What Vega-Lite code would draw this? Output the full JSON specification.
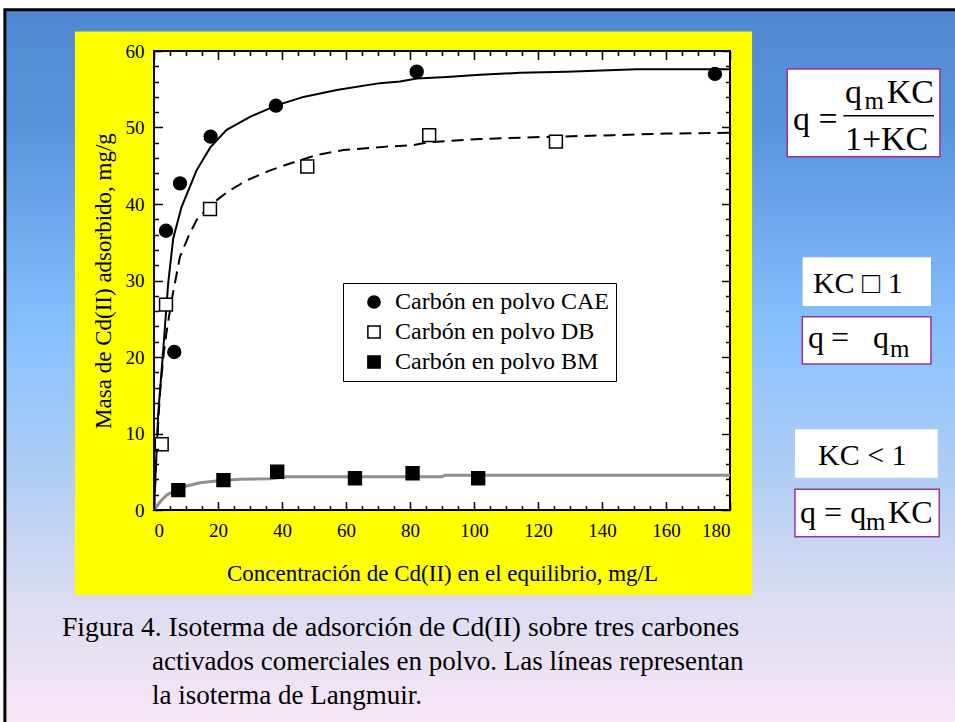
{
  "$schema": "https://vega.github.io/schema/vega-lite/v6.json",
  "width": 576,
  "height": 459,
  "autosize": {"type": "none"},
  "padding": {"left": 154, "top": 51, "right": 225, "bottom": 212},
  "background": "white",
  "config": {"view": {"stroke": null}, "font": "Liberation Serif", "axis": {"zindex": 1}},
  "datasets": {
    "puntos": [
      {"serie": "Carbón en polvo CAE", "C": 3.75, "q": 36.5},
      {"serie": "Carbón en polvo CAE", "C": 6.34, "q": 20.65},
      {"serie": "Carbón en polvo CAE", "C": 8.13, "q": 42.7},
      {"serie": "Carbón en polvo CAE", "C": 17.7, "q": 48.8},
      {"serie": "Carbón en polvo CAE", "C": 38.1, "q": 52.85},
      {"serie": "Carbón en polvo CAE", "C": 82.1, "q": 57.3},
      {"serie": "Carbón en polvo CAE", "C": 175.3, "q": 57.0},
      {"serie": "Carbón en polvo DB", "C": 2.41, "q": 8.6},
      {"serie": "Carbón en polvo DB", "C": 3.75, "q": 26.85},
      {"serie": "Carbón en polvo DB", "C": 17.5, "q": 39.35},
      {"serie": "Carbón en polvo DB", "C": 47.9, "q": 44.9},
      {"serie": "Carbón en polvo DB", "C": 86.0, "q": 49.0},
      {"serie": "Carbón en polvo DB", "C": 125.6, "q": 48.15},
      {"serie": "Carbón en polvo BM", "C": 7.6, "q": 2.6},
      {"serie": "Carbón en polvo BM", "C": 21.7, "q": 3.9},
      {"serie": "Carbón en polvo BM", "C": 38.5, "q": 5.0},
      {"serie": "Carbón en polvo BM", "C": 62.8, "q": 4.15},
      {"serie": "Carbón en polvo BM", "C": 80.8, "q": 4.8},
      {"serie": "Carbón en polvo BM", "C": 101.3, "q": 4.15}
    ],
    "curva_cae": [
      {"C": 0, "q": 0}, {"C": 1.3, "q": 12.5}, {"C": 2.9, "q": 21}, {"C": 4.4, "q": 29.5},
      {"C": 6.0, "q": 35.5}, {"C": 8.6, "q": 39.6}, {"C": 13.3, "q": 44.4}, {"C": 17.6, "q": 47.4},
      {"C": 22.7, "q": 49.7}, {"C": 30, "q": 51.4}, {"C": 38.3, "q": 52.9}, {"C": 46.7, "q": 54.0},
      {"C": 57.1, "q": 54.9}, {"C": 70.6, "q": 55.8}, {"C": 76.9, "q": 56.0}, {"C": 82.1, "q": 56.4},
      {"C": 91.5, "q": 56.6}, {"C": 101.9, "q": 56.9}, {"C": 114.4, "q": 57.15}, {"C": 129, "q": 57.3},
      {"C": 150.8, "q": 57.6}, {"C": 180, "q": 57.6}
    ],
    "curva_db": [
      {"C": 0, "q": 0}, {"C": 0.9, "q": 8.5}, {"C": 1.9, "q": 15.5}, {"C": 3.0, "q": 20.3},
      {"C": 3.9, "q": 23.2}, {"C": 5.5, "q": 27.4}, {"C": 8.1, "q": 33.1}, {"C": 10.7, "q": 35.7},
      {"C": 13.3, "q": 37.9}, {"C": 17.8, "q": 39.9}, {"C": 23, "q": 41.6}, {"C": 29, "q": 43.1},
      {"C": 36.3, "q": 44.4}, {"C": 42.5, "q": 45.3}, {"C": 50.8, "q": 46.4}, {"C": 59.2, "q": 47.05},
      {"C": 72.7, "q": 47.5}, {"C": 81, "q": 47.7}, {"C": 86.3, "q": 48.1}, {"C": 101.9, "q": 48.5},
      {"C": 116.5, "q": 48.7}, {"C": 143.5, "q": 49.0}, {"C": 160.2, "q": 49.2}, {"C": 180, "q": 49.3}
    ],
    "curva_bm": [
      {"C": 0, "q": 0}, {"C": 1.9, "q": 1.08}, {"C": 4.0, "q": 1.96}, {"C": 6.0, "q": 2.4},
      {"C": 9.2, "q": 3.05}, {"C": 14.4, "q": 3.57}, {"C": 20.1, "q": 3.83}, {"C": 26.9, "q": 4.01},
      {"C": 36.3, "q": 4.09}, {"C": 41.5, "q": 4.35}, {"C": 89.9, "q": 4.35}, {"C": 91, "q": 4.55},
      {"C": 180, "q": 4.55}
    ]
  },
  "resolve": {"axis": {"x": "independent", "y": "independent"}},
  "layer": [
    {
      "data": {"values": [{}]},
      "mark": {"type": "rect", "stroke": "black", "strokeWidth": 3,
        "fill": {"gradient": "linear", "x1": 0, "y1": 0, "x2": 0, "y2": 1,
          "stops": [
            {"offset": 0, "color": "#5089d2"},
            {"offset": 0.16, "color": "#5993dc"},
            {"offset": 0.44, "color": "#88c0ff"},
            {"offset": 0.6, "color": "#a8cbf5"},
            {"offset": 0.81, "color": "#dcdcf1"},
            {"offset": 0.975, "color": "#f9e6f6"},
            {"offset": 1, "color": "#f9e6f6"}
          ]}},
      "encoding": {
        "x": {"datum": -46.6, "type": "quantitative", "scale": {"domain": [0, 180], "nice": false, "zero": false}, "axis": null},
        "x2": {"datum": 255},
        "y": {"datum": 65.4, "type": "quantitative", "scale": {"domain": [0, 60], "nice": false, "zero": false}, "axis": null},
        "y2": {"datum": -30.1}
      }
    },
    {
      "data": {"values": [{}]},
      "mark": {"type": "rect", "fill": "#ffff00"},
      "encoding": {
        "x": {"datum": -24.7, "type": "quantitative", "scale": {"domain": [0, 180], "nice": false, "zero": false}, "axis": null},
        "x2": {"datum": 186.9},
        "y": {"datum": 62.55, "type": "quantitative", "scale": {"domain": [0, 60], "nice": false, "zero": false}, "axis": null},
        "y2": {"datum": -11.1}
      }
    },
    {
      "data": {"values": [{}]},
      "mark": {"type": "rect", "fill": "white", "stroke": "black", "strokeWidth": 2},
      "encoding": {
        "x": {"datum": 0, "type": "quantitative", "scale": {"domain": [0, 180], "nice": false, "zero": false}, "axis": null},
        "x2": {"datum": 180},
        "y": {"datum": 0, "type": "quantitative", "scale": {"domain": [0, 60], "nice": false, "zero": false}, "axis": null},
        "y2": {"datum": 60}
      }
    },
    {
      "data": {"values": [{}]},
      "mark": {"type": "rect", "fill": "white", "stroke": "#993399", "strokeWidth": 1.5},
      "encoding": {
        "x": {"datum": 197.9, "type": "quantitative", "axis": null}, "x2": {"datum": 245.6},
        "y": {"datum": 57.65, "type": "quantitative", "axis": null}, "y2": {"datum": 46.18}
      }
    },
    {
      "data": {"values": [{}]},
      "mark": {"type": "rect", "fill": "white"},
      "encoding": {
        "x": {"datum": 202.7, "type": "quantitative", "axis": null}, "x2": {"datum": 242.8},
        "y": {"datum": 33.03, "type": "quantitative", "axis": null}, "y2": {"datum": 26.67}
      }
    },
    {
      "data": {"values": [{}]},
      "mark": {"type": "rect", "fill": "white", "stroke": "#993399", "strokeWidth": 1.5},
      "encoding": {
        "x": {"datum": 202.6, "type": "quantitative", "axis": null}, "x2": {"datum": 242.8},
        "y": {"datum": 25.27, "type": "quantitative", "axis": null}, "y2": {"datum": 19.08}
      }
    },
    {
      "data": {"values": [{}]},
      "mark": {"type": "rect", "fill": "white"},
      "encoding": {
        "x": {"datum": 200.3, "type": "quantitative", "axis": null}, "x2": {"datum": 244.9},
        "y": {"datum": 10.55, "type": "quantitative", "axis": null}, "y2": {"datum": 4.22}
      }
    },
    {
      "data": {"values": [{}]},
      "mark": {"type": "rect", "fill": "white", "stroke": "#993399", "strokeWidth": 1.5},
      "encoding": {
        "x": {"datum": 200.3, "type": "quantitative", "axis": null}, "x2": {"datum": 245.4},
        "y": {"datum": 2.71, "type": "quantitative", "axis": null}, "y2": {"datum": -3.49}
      }
    },
    {
      "data": {"values": [{}]},
      "mark": {"type": "rule", "color": "black", "strokeWidth": 1.5},
      "encoding": {
        "x": {"datum": 215.4, "type": "quantitative", "axis": null}, "x2": {"datum": 243.75},
        "y": {"datum": 51.54, "type": "quantitative", "axis": null}
      }
    },
    {
      "data": {"values": [{}]},
      "mark": {"type": "text", "text": "q =", "align": "left", "baseline": "alphabetic", "font": "Liberation Serif", "fontSize": 34, "color": "black"},
      "encoding": {"x": {"datum": 199.7, "type": "quantitative", "axis": null}, "y": {"datum": 49.67, "type": "quantitative", "axis": null}}
    },
    {
      "data": {"values": [{}]},
      "mark": {"type": "text", "text": "q", "align": "left", "baseline": "alphabetic", "font": "Liberation Serif", "fontSize": 34, "color": "black"},
      "encoding": {"x": {"datum": 215.9, "type": "quantitative", "axis": null}, "y": {"datum": 53.16, "type": "quantitative", "axis": null}}
    },
    {
      "data": {"values": [{}]},
      "mark": {"type": "text", "text": "m", "align": "left", "baseline": "alphabetic", "font": "Liberation Serif", "fontSize": 25, "color": "black"},
      "encoding": {"x": {"datum": 222.0, "type": "quantitative", "axis": null}, "y": {"datum": 52.42, "type": "quantitative", "axis": null}}
    },
    {
      "data": {"values": [{}]},
      "mark": {"type": "text", "text": "KC", "align": "left", "baseline": "alphabetic", "font": "Liberation Serif", "fontSize": 34, "color": "black"},
      "encoding": {"x": {"datum": 229.0, "type": "quantitative", "axis": null}, "y": {"datum": 53.16, "type": "quantitative", "axis": null}}
    },
    {
      "data": {"values": [{}]},
      "mark": {"type": "text", "text": "1+KC", "align": "left", "baseline": "alphabetic", "font": "Liberation Serif", "fontSize": 34, "color": "black"},
      "encoding": {"x": {"datum": 215.9, "type": "quantitative", "axis": null}, "y": {"datum": 47.06, "type": "quantitative", "axis": null}}
    },
    {
      "data": {"values": [{}]},
      "mark": {"type": "text", "text": "KC □ 1", "align": "left", "baseline": "alphabetic", "font": "Liberation Serif", "fontSize": 30, "color": "black"},
      "encoding": {"x": {"datum": 205.9, "type": "quantitative", "axis": null}, "y": {"datum": 28.41, "type": "quantitative", "axis": null}}
    },
    {
      "data": {"values": [{}]},
      "mark": {"type": "text", "text": "q", "align": "left", "baseline": "alphabetic", "font": "Liberation Serif", "fontSize": 32, "color": "black"},
      "encoding": {"x": {"datum": 204.4, "type": "quantitative", "axis": null}, "y": {"datum": 21.14, "type": "quantitative", "axis": null}}
    },
    {
      "data": {"values": [{}]},
      "mark": {"type": "text", "text": "=", "align": "left", "baseline": "alphabetic", "font": "Liberation Serif", "fontSize": 32, "color": "black"},
      "encoding": {"x": {"datum": 211.6, "type": "quantitative", "axis": null}, "y": {"datum": 21.14, "type": "quantitative", "axis": null}}
    },
    {
      "data": {"values": [{}]},
      "mark": {"type": "text", "text": "q", "align": "left", "baseline": "alphabetic", "font": "Liberation Serif", "fontSize": 32, "color": "black"},
      "encoding": {"x": {"datum": 224.7, "type": "quantitative", "axis": null}, "y": {"datum": 21.14, "type": "quantitative", "axis": null}}
    },
    {
      "data": {"values": [{}]},
      "mark": {"type": "text", "text": "m", "align": "left", "baseline": "alphabetic", "font": "Liberation Serif", "fontSize": 25, "color": "black"},
      "encoding": {"x": {"datum": 230.0, "type": "quantitative", "axis": null}, "y": {"datum": 20.04, "type": "quantitative", "axis": null}}
    },
    {
      "data": {"values": [{}]},
      "mark": {"type": "text", "text": "KC < 1", "align": "left", "baseline": "alphabetic", "font": "Liberation Serif", "fontSize": 30, "color": "black"},
      "encoding": {"x": {"datum": 207.5, "type": "quantitative", "axis": null}, "y": {"datum": 5.88, "type": "quantitative", "axis": null}}
    },
    {
      "data": {"values": [{}]},
      "mark": {"type": "text", "text": "q = q", "align": "left", "baseline": "alphabetic", "font": "Liberation Serif", "fontSize": 32, "color": "black"},
      "encoding": {"x": {"datum": 201.9, "type": "quantitative", "axis": null}, "y": {"datum": -1.74, "type": "quantitative", "axis": null}}
    },
    {
      "data": {"values": [{}]},
      "mark": {"type": "text", "text": "m", "align": "left", "baseline": "alphabetic", "font": "Liberation Serif", "fontSize": 25, "color": "black"},
      "encoding": {"x": {"datum": 222.5, "type": "quantitative", "axis": null}, "y": {"datum": -2.61, "type": "quantitative", "axis": null}}
    },
    {
      "data": {"values": [{}]},
      "mark": {"type": "text", "text": "KC", "align": "left", "baseline": "alphabetic", "font": "Liberation Serif", "fontSize": 32, "color": "black"},
      "encoding": {"x": {"datum": 229.4, "type": "quantitative", "axis": null}, "y": {"datum": -1.74, "type": "quantitative", "axis": null}}
    },
    {
      "data": {"values": [{}]},
      "mark": {"type": "text", "text": "Figura 4. Isoterma de adsorción de Cd(II) sobre tres carbones", "align": "left", "baseline": "alphabetic", "font": "Liberation Serif", "fontSize": 27.6, "color": "black"},
      "encoding": {"x": {"datum": -28.75, "type": "quantitative", "axis": null}, "y": {"datum": -16.47, "type": "quantitative", "axis": null}}
    },
    {
      "data": {"values": [{}]},
      "mark": {"type": "text", "text": "activados comerciales en polvo. Las líneas representan", "align": "left", "baseline": "alphabetic", "font": "Liberation Serif", "fontSize": 27, "color": "black"},
      "encoding": {"x": {"datum": -0.6, "type": "quantitative", "axis": null}, "y": {"datum": -20.92, "type": "quantitative", "axis": null}}
    },
    {
      "data": {"values": [{}]},
      "mark": {"type": "text", "text": "la isoterma de Langmuir.", "align": "left", "baseline": "alphabetic", "font": "Liberation Serif", "fontSize": 27, "color": "black"},
      "encoding": {"x": {"datum": -0.6, "type": "quantitative", "axis": null}, "y": {"datum": -25.36, "type": "quantitative", "axis": null}}
    },
    {
      "data": {"name": "curva_cae"},
      "mark": {"type": "line", "color": "black", "strokeWidth": 2},
      "encoding": {
        "x": {"field": "C", "type": "quantitative", "scale": {"domain": [0, 180], "nice": false, "zero": false},
          "axis": {"orient": "bottom", "zindex": 2, "values": [0,5,10,15,20,25,30,35,40,45,50,55,60,65,70,75,80,85,90,95,100,105,110,115,120,125,130,135,140,145,150,155,160,165,170,175,180],
            "labels": false, "domain": false, "grid": false, "title": null, "tickColor": "black", "tickWidth": 1.5,
            "tickSize": {"condition": {"test": "datum.value % 20 === 0", "value": -8.5}, "value": -4.5}}},
        "y": {"field": "q", "type": "quantitative", "scale": {"domain": [0, 60], "nice": false, "zero": false},
          "axis": {"orient": "left", "zindex": 2, "values": [0,2,4,6,8,10,12,14,16,18,20,22,24,26,28,30,32,34,36,38,40,42,44,46,48,50,52,54,56,58,60],
            "labels": false, "domain": false, "grid": false, "title": null, "tickColor": "black", "tickWidth": 1.5,
            "tickSize": {"condition": {"test": "datum.value % 10 === 0", "value": -8.5}, "value": -4.5}}}
      }
    },
    {
      "data": {"name": "curva_db"},
      "mark": {"type": "line", "color": "black", "strokeWidth": 2, "strokeDash": [12, 7]},
      "encoding": {
        "x": {"field": "C", "type": "quantitative", "scale": {"domain": [0, 180], "nice": false, "zero": false},
          "axis": {"orient": "top", "zindex": 2, "values": [0,5,10,15,20,25,30,35,40,45,50,55,60,65,70,75,80,85,90,95,100,105,110,115,120,125,130,135,140,145,150,155,160,165,170,175,180],
            "labels": false, "domain": false, "grid": false, "title": null, "tickColor": "black", "tickWidth": 1.5,
            "tickSize": {"condition": {"test": "datum.value % 20 === 0", "value": -8.5}, "value": -4.5}}},
        "y": {"field": "q", "type": "quantitative", "scale": {"domain": [0, 60], "nice": false, "zero": false},
          "axis": {"orient": "right", "zindex": 2, "values": [0,2,4,6,8,10,12,14,16,18,20,22,24,26,28,30,32,34,36,38,40,42,44,46,48,50,52,54,56,58,60],
            "labels": false, "domain": false, "grid": false, "title": null, "tickColor": "black", "tickWidth": 1.5,
            "tickSize": {"condition": {"test": "datum.value % 10 === 0", "value": -8.5}, "value": -4.5}}}
      }
    },
    {
      "data": {"name": "curva_bm"},
      "mark": {"type": "line", "color": "#8f8f8f", "strokeWidth": 3},
      "encoding": {
        "x": {"field": "C", "type": "quantitative", "scale": {"domain": [0, 180], "nice": false, "zero": false}, "axis": null},
        "y": {"field": "q", "type": "quantitative", "scale": {"domain": [0, 60], "nice": false, "zero": false}, "axis": null}
      }
    },
    {
      "data": {"name": "puntos"},
      "mark": {"type": "point", "strokeWidth": 1.5, "opacity": 1, "size": 165},
      "encoding": {
        "x": {"field": "C", "type": "quantitative", "scale": {"domain": [0, 180], "nice": false, "zero": false},
          "axis": {"orient": "bottom", "zindex": 2, "values": [0,20,40,60,80,100,120,140,160,180], "ticks": false, "domain": false, "grid": false,
            "labelFont": "Liberation Serif", "labelFontSize": 19, "labelColor": "black", "labelPadding": 11,
            "title": "Concentración de Cd(II) en el equilibrio, mg/L", "titleFont": "Liberation Serif", "titleFontSize": 23,
            "titleFontWeight": "normal", "titleColor": "black", "titlePadding": 22}},
        "y": {"field": "q", "type": "quantitative", "scale": {"domain": [0, 60], "nice": false, "zero": false},
          "axis": {"orient": "left", "zindex": 2, "values": [0,10,20,30,40,50,60], "ticks": false, "domain": false, "grid": false,
            "labelFont": "Liberation Serif", "labelFontSize": 19, "labelColor": "black", "labelPadding": 10,
            "title": "Masa de Cd(II) adsorbido, mg/g", "titleFont": "Liberation Serif", "titleFontSize": 23,
            "titleFontWeight": "normal", "titleColor": "black", "titlePadding": 10}},
        "shape": {"field": "serie", "type": "nominal",
          "scale": {"domain": ["Carbón en polvo CAE", "Carbón en polvo DB", "Carbón en polvo BM"], "range": ["circle", "square", "square"]},
          "legend": {"orient": "none", "legendX": 189, "legendY": 232, "title": null, "fillColor": "white", "strokeColor": "black",
            "padding": 7, "labelFont": "Liberation Serif", "labelFontSize": 24, "labelColor": "black", "labelLimit": 400,
            "symbolSize": 150, "symbolStrokeWidth": 1.5, "rowPadding": 6, "symbolOffset": 12, "labelOffset": 9}},
        "fill": {"field": "serie", "type": "nominal",
          "scale": {"domain": ["Carbón en polvo CAE", "Carbón en polvo DB", "Carbón en polvo BM"], "range": ["black", "white", "black"]},
          "legend": {"orient": "none", "legendX": 189, "legendY": 232, "title": null, "fillColor": "white", "strokeColor": "black",
            "padding": 7, "labelFont": "Liberation Serif", "labelFontSize": 24, "labelColor": "black", "labelLimit": 400,
            "symbolSize": 150, "symbolStrokeWidth": 1.5, "rowPadding": 6, "symbolOffset": 12, "labelOffset": 9}},
        "stroke": {"field": "serie", "type": "nominal",
          "scale": {"domain": ["Carbón en polvo CAE", "Carbón en polvo DB", "Carbón en polvo BM"], "range": ["black", "black", "black"]},
          "legend": {"orient": "none", "legendX": 189, "legendY": 232, "title": null, "fillColor": "white", "strokeColor": "black",
            "padding": 7, "labelFont": "Liberation Serif", "labelFontSize": 24, "labelColor": "black", "labelLimit": 400,
            "symbolSize": 150, "symbolStrokeWidth": 1.5, "rowPadding": 6, "symbolOffset": 12, "labelOffset": 9}}
      }
    }
  ]
}
